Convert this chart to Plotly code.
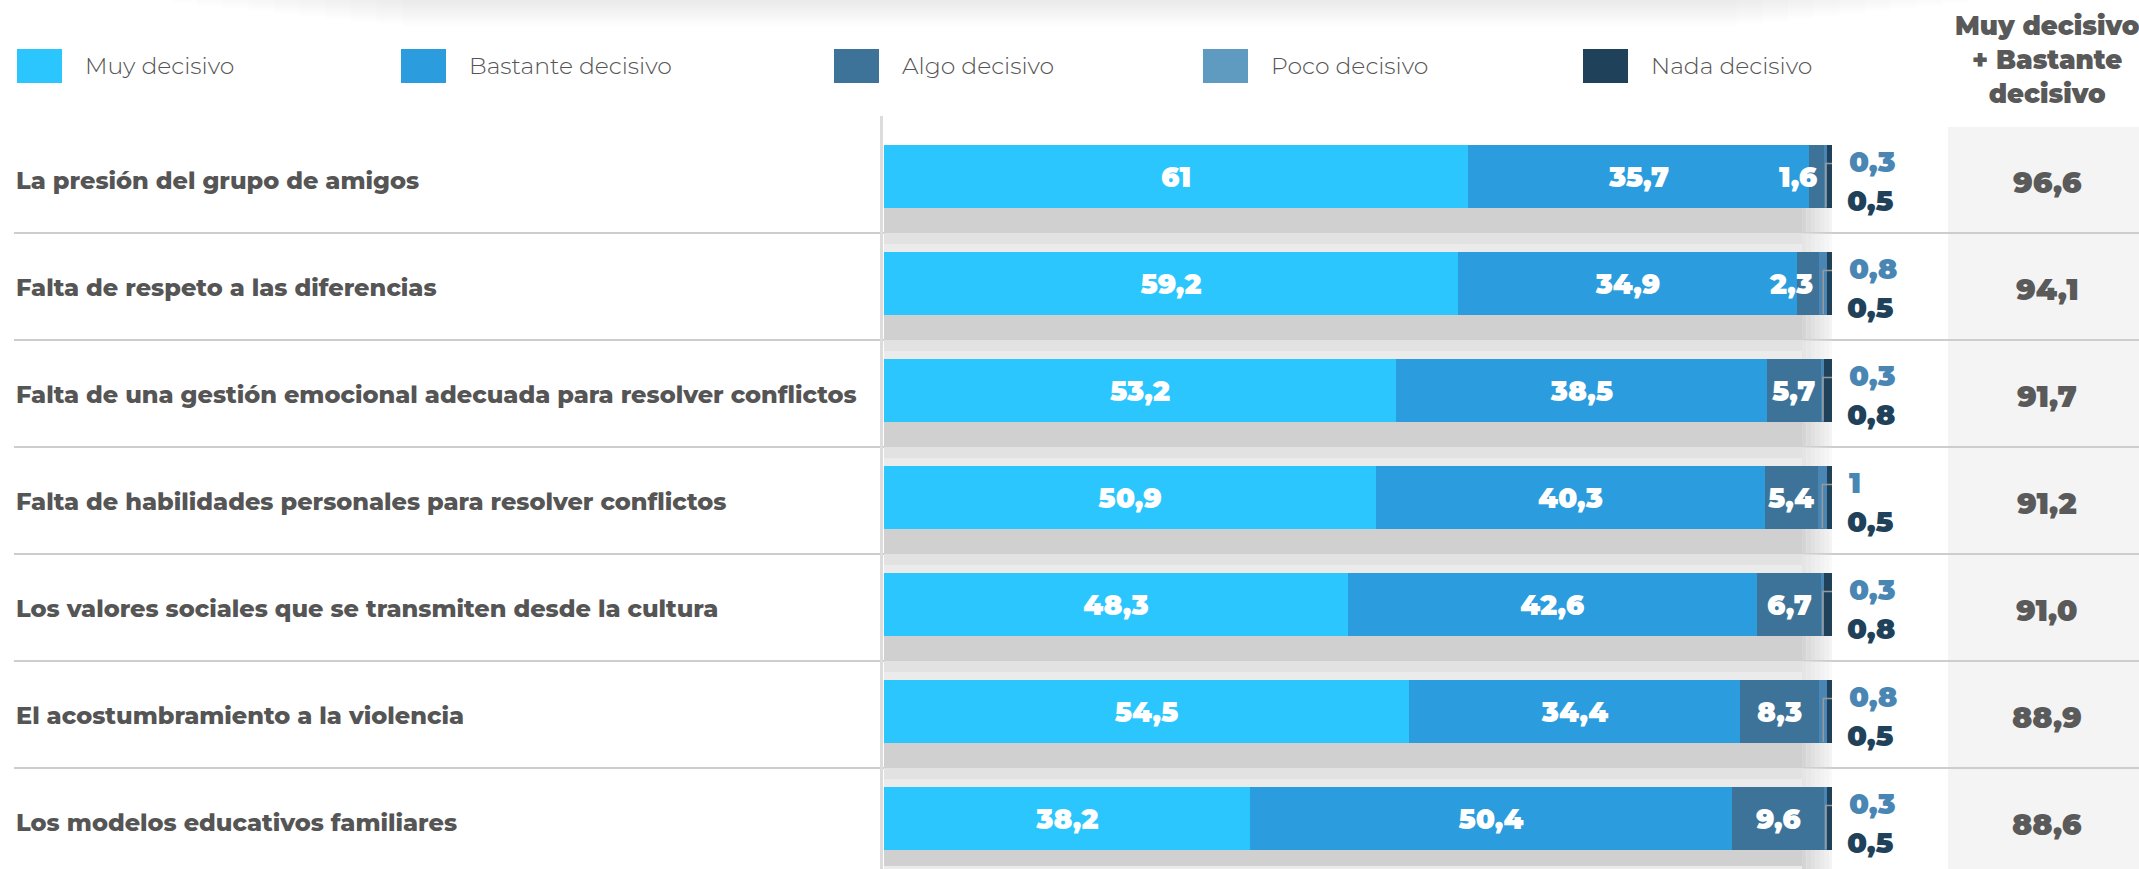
import plotly.graph_objects as go

# ---------------- data ----------------
categories = [
    "La presión del grupo de amigos",
    "Falta de respeto a las diferencias",
    "Falta de una gestión emocional adecuada para resolver conflictos",
    "Falta de habilidades personales para resolver conflictos",
    "Los valores sociales que se transmiten desde la cultura",
    "El acostumbramiento a la violencia",
    "Los modelos educativos familiares",
]
series_names = ["Muy decisivo", "Bastante decisivo", "Algo decisivo", "Poco decisivo", "Nada decisivo"]
muy = [61, 59.2, 53.2, 50.9, 48.3, 54.5, 38.2]
bastante = [35.7, 34.9, 38.5, 40.3, 42.6, 34.4, 50.4]
algo = [1.6, 2.3, 5.7, 5.4, 6.7, 8.3, 9.6]
poco = [0.3, 0.8, 0.3, 1, 0.3, 0.8, 0.3]
nada = [0.5, 0.5, 0.8, 0.5, 0.8, 0.5, 0.5]
total_muy_bastante = [96.6, 94.1, 91.7, 91.2, 91.0, 88.9, 88.6]
header_total = "Muy decisivo<br>+ Bastante<br>decisivo"

colors = ["#2bc6fd", "#2b9cdd", "#3d7399", "#4a86b4", "#1f425a"]
legend_colors = ["#2bc6fd", "#2b9cdd", "#3d7399", "#5f9bc1", "#1f425a"]

# ---------------- geometry ----------------
W, H = 2139, 869
X0_PX, X1_PX = 884, 1832          # bar 0% and 100%
ROW0_PX, ROW_PITCH = 176.5, 107   # centre of first bar, row spacing
BAR_PX = 63

def ydata(px):
    return (px - ROW0_PX) / ROW_PITCH

def xdata(px):
    return (px - X0_PX) / (X1_PX - X0_PX) * 100

def ypaper(px):
    return 1 - px / H

def fmt(v, dec=None):
    if dec is not None:
        s = f"{v:.{dec}f}"
    else:
        s = f"{v:g}"
    return s.replace(".", ",")

n = len(categories)
rows = list(range(n))
series = [muy, bastante, algo, poco, nada]
sums = [sum(s[i] for s in series) for i in rows]
pct = [[s[i] / sums[i] * 100 for i in rows] for s in series]

fig = go.Figure()
NUMFONT = "Montserrat, 'Open Sans', sans-serif"
for k, name in enumerate(series_names):
    show_text = k < 2
    fig.add_trace(go.Bar(
        x=pct[k], y=rows, orientation="h", name=name,
        marker=dict(color=colors[k], line=dict(width=0)),
        width=BAR_PX / ROW_PITCH,
        text=[fmt(v) for v in series[k]] if show_text else None,
        textposition="inside" if show_text else "none",
        insidetextanchor="middle",
        textangle=0,
        textfont=dict(color="white", size=28, family=NUMFONT, weight=900),
        hoverinfo="skip",
        showlegend=False,
    ))

shapes = []
annotations = []

# top shadow
for k in range(10):
    shapes.append(dict(type="rect", xref="paper", yref="paper",
                       x0=0.08 + k * 0.012, x1=0.92 - k * 0.012,
                       y0=ypaper(3 + k * 2.6), y1=1,
                       fillcolor="#000", opacity=0.009, line=dict(width=0), layer="below"))

# right gray column
shapes.append(dict(type="rect", xref="paper", yref="paper",
                   x0=1948 / W, x1=1, y0=0, y1=ypaper(127),
                   fillcolor="#f4f4f4", line=dict(width=0), layer="below"))

# shadows below the bars
for i in rows:
    bb = ROW0_PX + ROW_PITCH * i + BAR_PX / 2
    sep = bb + 25
    nxt = min(bb + 44, H + 5)
    fade_start = 1802
    shapes.append(dict(type="rect", xref="x", yref="y", x0=xdata(X0_PX - 1), x1=xdata(fade_start),
                       y0=ydata(bb), y1=ydata(sep), fillcolor="#d0d0d0", line=dict(width=0), layer="below"))
    shapes.append(dict(type="rect", xref="x", yref="y", x0=xdata(X0_PX - 1), x1=xdata(fade_start),
                       y0=ydata(sep), y1=ydata(nxt), fillcolor="#e2e2e2", line=dict(width=0), layer="below"))
    shapes.append(dict(type="rect", xref="x", yref="y", x0=xdata(X0_PX - 1), x1=xdata(fade_start),
                       y0=ydata(nxt - 8), y1=ydata(nxt), fillcolor="#ebebeb", line=dict(width=0), layer="below"))
    steps = 8
    for s in range(steps):
        a = 1 - (s + 1) / (steps + 1)
        xa = fade_start + s * 4.5
        shapes.append(dict(type="rect", xref="x", yref="y", x0=xdata(xa), x1=xdata(xa + 4.5),
                           y0=ydata(bb), y1=ydata(sep), fillcolor="#d0d0d0", opacity=a,
                           line=dict(width=0), layer="below"))
        shapes.append(dict(type="rect", xref="x", yref="y", x0=xdata(xa), x1=xdata(xa + 4.5),
                           y0=ydata(sep), y1=ydata(nxt), fillcolor="#e2e2e2", opacity=a,
                           line=dict(width=0), layer="below"))

# row separators
for i in rows[:-1]:
    sep = ROW0_PX + ROW_PITCH * i + BAR_PX / 2 + 25
    shapes.append(dict(type="line", xref="paper", yref="paper", x0=14 / W, x1=1,
                       y0=ypaper(sep), y1=ypaper(sep), line=dict(color="#cdcdcd", width=2), layer="below"))

# vertical axis line at bar start
shapes.append(dict(type="line", xref="paper", yref="paper", x0=881.5 / W, x1=881.5 / W,
                   y0=ypaper(116), y1=0, line=dict(color="#dcdcdc", width=3), layer="below"))

# legend (custom)
leg_sq = [17, 401, 834, 1203, 1583]
for k, name in enumerate(series_names):
    x0 = leg_sq[k]
    shapes.append(dict(type="rect", xref="paper", yref="paper", x0=x0 / W, x1=(x0 + 45) / W,
                       y0=ypaper(83), y1=ypaper(49), fillcolor=legend_colors[k], line=dict(width=0)))
    annotations.append(dict(xref="paper", yref="paper", x=(x0 + 66) / W, y=ypaper(66),
                            xanchor="left", yanchor="middle", text=name, showarrow=False,
                            font=dict(size=23.5, color="#555555", family="Montserrat, 'Open Sans', sans-serif", weight=300)))

# header of the right column
annotations.append(dict(xref="paper", yref="paper", x=2047 / W, y=ypaper(60), xanchor="center",
                        yanchor="middle", text=header_total, showarrow=False,
                        font=dict(size=26, color="#595959", family=NUMFONT, weight=900)))

for i in rows:
    annotations.append(dict(xref="paper", yref="y", x=14 / W, y=i, xanchor="left", yanchor="middle",
                            yshift=-4, text=categories[i], showarrow=False,
                            font=dict(size=24, color="#555555", family="Montserrat, 'Open Sans', sans-serif", weight=800)))
    annotations.append(dict(xref="paper", yref="y", x=2047 / W, y=i, xanchor="center", yanchor="middle",
                            yshift=-6, text=fmt(total_muy_bastante[i], 1), showarrow=False,
                            font=dict(size=30, color="#5a5a5a", family=NUMFONT, weight=900)))
    a_start = pct[0][i] + pct[1][i]
    a_end = a_start + pct[2][i]
    if pct[2][i] >= 4:
        annotations.append(dict(xref="x", yref="y", x=(a_start + a_end) / 2, y=i, xanchor="center",
                                yanchor="middle", text=fmt(algo[i]), showarrow=False,
                                font=dict(size=28, color="white", family=NUMFONT, weight=900)))
    else:
        annotations.append(dict(xref="x", yref="y", x=a_end, y=i, xanchor="right", xshift=-4,
                                yanchor="middle", text=fmt(algo[i]), showarrow=False,
                                font=dict(size=28, color="white", family=NUMFONT, weight=900)))
    annotations.append(dict(xref="x", yref="y", x=100, y=i, xanchor="left", xshift=15, yshift=15,
                            yanchor="middle", text=fmt(poco[i]), showarrow=False,
                            font=dict(size=29, color="#4a86b4", family=NUMFONT, weight=900)))
    annotations.append(dict(xref="x", yref="y", x=100, y=i, xanchor="left", xshift=13, yshift=-24,
                            yanchor="middle", text=fmt(nada[i]), showarrow=False,
                            font=dict(size=29, color="#1f425a", family=NUMFONT, weight=900)))
    p_mid = a_end + pct[3][i] / 2
    yb = ydata(ROW0_PX + ROW_PITCH * i + BAR_PX / 2 - 1)
    yl = i - 13 / ROW_PITCH
    xl = xdata(1839)
    shapes.append(dict(type="path", xref="x", yref="y",
                       path=f"M {p_mid:.3f},{yb:.4f} L {p_mid:.3f},{yl:.4f} L {xl:.3f},{yl:.4f}",
                       line=dict(color="#9a9a9a", width=1.5)))

fig.update_layout(
    width=W, height=H,
    margin=dict(l=0, r=0, t=0, b=0),
    paper_bgcolor="white", plot_bgcolor="rgba(0,0,0,0)",
    barmode="stack", bargap=0,
    xaxis=dict(domain=[X0_PX / W, X1_PX / W], range=[0, 100], visible=False, fixedrange=True),
    yaxis=dict(range=[ydata(H), ydata(0)], visible=False, fixedrange=True),
    shapes=shapes, annotations=annotations,
    showlegend=False,
)

fig.write_html("out.html", config={"displayModeBar": False},
               post_script="document.body.style.margin='0';document.body.style.overflow='hidden';")
